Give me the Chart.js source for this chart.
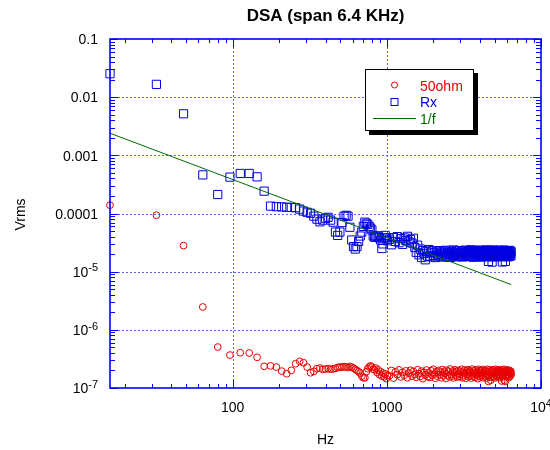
<!DOCTYPE html>
<html>
<head>
<meta charset="utf-8">
<title>DSA (span 6.4 KHz)</title>
<script src="https://cdn.jsdelivr.net/npm/chart.js@4.4.1/dist/chart.umd.min.js"></script>
<style>
  html, body { margin: 0; padding: 0; background: #fff; }
  #wrap { width: 550px; height: 450px; }
</style>
</head>
<body>
<div id="wrap"><canvas id="dsa" width="550" height="450"></canvas></div>
<script>
/* global Chart */
(function () {
  'use strict';

  const chartTitle = 'DSA (span 6.4 KHz)';
  const xTitle = 'Hz';
  const yTitle = 'Vrms';

  // analyzer bins (Hz); 16 Hz apart up to 1 kHz, thinned to 32 Hz above
  const freqHz = [
    16, 32, 48, 64, 80, 96, 112, 128, 144, 160, 176, 192, 208, 224, 240, 256,
    272, 288, 304, 320, 336, 352, 368, 384, 400, 416, 432, 448, 464, 480, 496,
    512, 528, 544, 560, 576, 592, 608, 624, 640, 656, 672, 688, 704, 720, 736,
    752, 768, 784, 800, 816, 832, 848, 864, 880, 896, 912, 928, 944, 960, 976,
    992, 1008,
    1040, 1072, 1104, 1136, 1168, 1200, 1232, 1264, 1296, 1328, 1360, 1392,
    1424, 1456, 1488, 1520, 1552, 1584, 1616, 1648, 1680, 1712, 1744, 1776,
    1808, 1840, 1872, 1904, 1936, 1968, 2000, 2032, 2064, 2096, 2128, 2160,
    2192, 2224, 2256, 2288, 2320, 2352, 2384, 2416, 2448, 2480, 2512, 2544,
    2576, 2608, 2640, 2672, 2704, 2736, 2768, 2800, 2832, 2864, 2896, 2928,
    2960, 2992, 3024, 3056, 3088, 3120, 3152, 3184, 3216, 3248, 3280, 3312,
    3344, 3376, 3408, 3440, 3472, 3504, 3536, 3568, 3600, 3632, 3664, 3696,
    3728, 3760, 3792, 3824, 3856, 3888, 3920, 3952, 3984, 4016, 4048, 4080,
    4112, 4144, 4176, 4208, 4240, 4272, 4304, 4336, 4368, 4400, 4432, 4464,
    4496, 4528, 4560, 4592, 4624, 4656, 4688, 4720, 4752, 4784, 4816, 4848,
    4880, 4912, 4944, 4976, 5008, 5040, 5072, 5104, 5136, 5168, 5200, 5232,
    5264, 5296, 5328, 5360, 5392, 5424, 5456, 5488, 5520, 5552, 5584, 5616,
    5648, 5680, 5712, 5744, 5776, 5808, 5840, 5872, 5904, 5936, 5968, 6000,
    6032, 6064, 6096, 6128, 6160, 6192, 6224, 6256, 6288, 6320, 6352, 6384,
    6400
  ];

  const ohm50 = [
    1.39e-4, 9.35e-5, 2.81e-5, 2.47e-6, 5.06e-7, 3.68e-7, 4.04e-7, 4.0e-7, 3.37e-7, 2.36e-7, 2.40e-7,
    2.29e-7, 1.95e-7, 1.76e-7, 2.01e-7, 2.62e-7, 2.87e-7, 2.72e-7, 2.29e-7, 1.83e-7, 1.93e-7,
    2.15e-7, 2.20e-7, 2.09e-7, 2.12e-7, 2.15e-7, 2.10e-7, 2.13e-7, 2.18e-7, 2.25e-7, 2.30e-7,
    2.28e-7, 2.32e-7, 2.30e-7, 2.25e-7, 2.35e-7, 2.28e-7, 2.20e-7, 2.10e-7, 2.00e-7, 1.90e-7,
    1.80e-7, 1.60e-7, 1.50e-7, 1.50e-7, 1.90e-7, 2.15e-7, 2.30e-7, 2.40e-7, 2.30e-7, 2.10e-7,
    2.05e-7, 2.20e-7, 1.85e-7, 2.05e-7, 1.70e-7, 1.90e-7, 1.60e-7, 1.80e-7, 1.55e-7, 1.75e-7,
    1.45e-7, 1.65e-7,
    1.62e-7, 2.00e-7, 1.48e-7, 1.90e-7, 1.70e-7, 2.05e-7, 1.55e-7, 1.85e-7, 1.65e-7, 1.97e-7, 1.50e-7, 1.80e-7,
    2.02e-7, 1.60e-7, 1.92e-7, 1.72e-7, 1.53e-7, 2.06e-7, 1.76e-7, 1.58e-7, 1.95e-7, 1.45e-7, 1.86e-7, 1.68e-7,
    2.04e-7, 1.57e-7, 1.82e-7, 1.52e-7, 1.98e-7, 1.66e-7, 2.10e-7, 1.74e-7, 1.47e-7, 1.91e-7, 1.60e-7, 2.00e-7,
    1.70e-7, 1.87e-7, 1.50e-7, 2.08e-7, 1.63e-7, 1.94e-7, 1.78e-7, 1.46e-7, 2.02e-7, 1.68e-7, 1.88e-7, 1.56e-7,
    2.12e-7, 1.73e-7, 1.60e-7, 1.96e-7, 1.49e-7, 1.84e-7, 2.05e-7, 1.66e-7, 1.90e-7, 1.54e-7, 2.00e-7, 1.76e-7,
    1.58e-7, 1.93e-7, 1.71e-7, 2.10e-7, 1.50e-7, 1.86e-7, 1.64e-7, 2.03e-7, 1.79e-7, 1.47e-7, 1.95e-7, 1.69e-7,
    2.07e-7, 1.56e-7, 1.83e-7, 1.99e-7, 1.62e-7, 1.89e-7, 1.48e-7, 2.11e-7, 1.74e-7, 1.59e-7, 1.96e-7, 1.80e-7,
    1.52e-7, 2.04e-7, 1.67e-7, 1.92e-7, 1.77e-7, 1.45e-7, 2.09e-7, 1.61e-7, 1.87e-7, 2.00e-7, 1.55e-7, 1.82e-7,
    1.97e-7, 1.65e-7, 2.08e-7, 1.50e-7, 1.85e-7, 1.72e-7, 2.02e-7, 1.57e-7, 1.94e-7, 1.68e-7, 1.48e-7, 2.10e-7,
    1.75e-7, 1.60e-7, 1.30e-7, 1.90e-7, 1.66e-7, 2.05e-7, 1.53e-7, 1.36e-7, 1.83e-7, 1.98e-7, 1.62e-7, 1.88e-7,
    2.06e-7, 1.55e-7, 1.79e-7, 1.95e-7, 1.49e-7, 1.86e-7, 2.10e-7, 1.64e-7, 1.91e-7, 1.57e-7, 2.02e-7, 1.73e-7,
    1.60e-7, 1.97e-7, 1.69e-7, 2.07e-7, 1.51e-7, 1.84e-7, 1.99e-7, 1.63e-7, 1.88e-7, 1.32e-7, 1.76e-7, 2.03e-7,
    1.56e-7, 1.92e-7, 1.73e-7, 2.10e-7, 1.35e-7, 1.81e-7, 1.98e-7, 1.30e-7, 1.67e-7, 1.95e-7, 1.59e-7, 1.85e-7,
    2.05e-7, 1.62e-7, 1.90e-7, 1.74e-7, 1.50e-7, 1.96e-7, 1.68e-7, 2.01e-7, 1.58e-7, 1.87e-7, 1.77e-7, 1.93e-7,
    1.70e-7
  ];

  const rx = [
    0.0253, 0.0166, 0.00518, 4.61e-4, 2.12e-4, 4.22e-4, 4.88e-4, 4.88e-4, 4.27e-4, 2.42e-4, 1.34e-4,
    1.31e-4, 1.30e-4, 1.28e-4, 1.27e-4, 1.26e-4, 1.19e-4, 1.10e-4, 1.05e-4, 1.01e-4, 9.0e-5,
    8.0e-5, 7.2e-5, 7.7e-5, 8.3e-5, 8.6e-5, 7.7e-5, 7.1e-5, 4.8e-5, 4.2e-5, 4.8e-5,
    7.0e-5, 9.0e-5, 9.3e-5, 9.0e-5, 5.8e-5, 3.5e-5, 2.7e-5, 2.45e-5, 2.7e-5, 3.3e-5,
    4.1e-5, 4.8e-5, 6.0e-5, 7.1e-5, 6.8e-5, 6.5e-5, 6.0e-5, 5.6e-5, 5.2e-5, 4.1e-5,
    3.9e-5, 4.1e-5, 3.9e-5, 4.1e-5, 3.8e-5, 3.5e-5, 2.5e-5, 3.0e-5, 3.8e-5, 4.2e-5,
    3.8e-5, 3.4e-5,
    3.60e-5, 2.90e-5, 3.85e-5, 3.30e-5, 4.00e-5, 3.15e-5, 3.70e-5, 2.95e-5, 3.80e-5, 3.45e-5, 4.05e-5, 3.25e-5,
    3.55e-5, 3.10e-5, 3.75e-5, 2.60e-5, 2.15e-5, 2.85e-5, 1.95e-5, 2.45e-5, 1.75e-5, 2.30e-5, 2.05e-5, 1.60e-5,
    2.20e-5, 1.85e-5, 2.40e-5, 1.80e-5, 2.10e-5, 2.30e-5, 1.90e-5, 2.15e-5, 1.75e-5, 2.25e-5, 2.00e-5, 1.85e-5,
    2.30e-5, 1.95e-5, 2.10e-5, 1.78e-5, 2.24e-5, 2.02e-5, 1.88e-5, 2.33e-5, 1.82e-5, 2.12e-5, 1.97e-5, 2.27e-5,
    1.76e-5, 2.06e-5, 2.20e-5, 1.90e-5, 2.36e-5, 1.84e-5, 2.14e-5, 1.99e-5, 2.28e-5, 1.80e-5, 2.09e-5, 1.93e-5,
    2.31e-5, 1.86e-5, 2.17e-5, 2.00e-5, 1.79e-5, 2.25e-5, 1.92e-5, 2.11e-5, 2.34e-5, 1.83e-5, 2.04e-5, 2.21e-5,
    1.89e-5, 2.29e-5, 1.81e-5, 2.13e-5, 1.96e-5, 2.38e-5, 1.85e-5, 2.07e-5, 2.23e-5, 1.77e-5, 2.16e-5, 1.94e-5,
    2.32e-5, 1.87e-5, 2.10e-5, 2.26e-5, 1.80e-5, 2.01e-5, 2.19e-5, 1.91e-5, 2.35e-5, 1.84e-5, 2.08e-5, 1.98e-5,
    2.27e-5, 1.78e-5, 2.15e-5, 1.93e-5, 2.30e-5, 1.86e-5, 2.05e-5, 2.22e-5, 1.82e-5, 2.12e-5, 2.37e-5, 1.90e-5,
    2.03e-5, 2.24e-5, 1.50e-5, 2.18e-5, 1.88e-5, 2.33e-5, 1.95e-5, 2.10e-5, 1.79e-5, 2.26e-5, 1.46e-5, 2.00e-5,
    2.20e-5, 1.85e-5, 2.36e-5, 1.97e-5, 2.11e-5, 1.81e-5, 2.29e-5, 1.92e-5, 2.14e-5, 2.02e-5, 1.87e-5, 2.31e-5,
    1.94e-5, 2.17e-5, 1.83e-5, 2.25e-5, 2.06e-5, 1.90e-5, 2.34e-5, 1.80e-5, 2.12e-5, 1.98e-5, 2.21e-5, 1.47e-5,
    2.28e-5, 1.89e-5, 2.09e-5, 2.35e-5, 1.84e-5, 2.16e-5, 1.95e-5, 1.50e-5, 2.23e-5, 2.01e-5, 1.86e-5, 2.30e-5,
    1.93e-5, 2.13e-5, 1.80e-5, 2.27e-5, 2.04e-5, 1.90e-5, 2.19e-5, 1.83e-5, 2.32e-5, 1.97e-5, 2.10e-5, 1.88e-5,
    2.20e-5
  ];

  // 1/f reference line, end points
  const fitHz = [16, 6400];
  const fitVrms = [0.0024, 6.0e-6];

  const xTickValues = [100, 1000, 10000];
  const xTickLabels = ['100', '1000', '10^4'];
  const yTickValues = [0.1, 0.01, 0.001, 0.0001, 1e-5, 1e-6, 1e-7];
  const yTickLabels = ['0.1', '0.01', '0.001', '0.0001', '10^-5', '10^-6', '10^-7'];
  const minorSteps = [2, 3, 4, 5, 6, 7, 8, 9];

  const RED = '#e80000';
  const BLUE = '#0000e0';
  const GREEN = '#006a00';
  const AXIS = '#0000ff';
  const FONT = '"Liberation Sans", Arial, Helvetica, sans-serif';

  function toPoints(xs, ys) {
    return xs.map(function (x, i) {
      return { x: x, y: ys[i] };
    });
  }

  // "10^-5" -> 10 with a raised -5
  function labelWidth(ctx, label) {
    const parts = label.split('^');
    ctx.font = '14px ' + FONT;
    let w = ctx.measureText(parts[0]).width;
    if (parts[1]) {
      ctx.font = '11px ' + FONT;
      w += ctx.measureText(parts[1]).width;
    }
    return w;
  }

  function drawLabel(ctx, label, left, baseline) {
    const parts = label.split('^');
    ctx.font = '14px ' + FONT;
    ctx.fillText(parts[0], left, baseline);
    if (parts[1]) {
      const w = ctx.measureText(parts[0]).width;
      ctx.font = '11px ' + FONT;
      ctx.fillText(parts[1], left + w, baseline - 5.5);
    }
  }

  function seg(ctx, x1, y1, x2, y2) {
    ctx.beginPath();
    ctx.moveTo(x1, y1);
    ctx.lineTo(x2, y2);
    ctx.stroke();
  }

  function decadeMinors(scale) {
    const out = [];
    const e0 = Math.floor(Math.log10(scale.min));
    const e1 = Math.ceil(Math.log10(scale.max));
    for (let e = e0; e < e1; e++) {
      minorSteps.forEach(function (m) {
        const v = m * Math.pow(10, e);
        if (v > scale.min && v < scale.max) out.push(v);
      });
    }
    return out;
  }

  const framePlugin = {
    id: 'kgFrame',
    beforeDatasetsDraw: function (chart) {
      const ctx = chart.ctx;
      const a = chart.chartArea;
      const sx = chart.scales.x;
      const sy = chart.scales.y;
      ctx.save();
      ctx.strokeStyle = '#5a5aff';
      ctx.lineWidth = 1;
      ctx.setLineDash([2, 2]);
      xTickValues.forEach(function (v) {
        const px = Math.round(sx.getPixelForValue(v)) + 0.5;
        if (px > a.left + 2 && px < a.right - 2) seg(ctx, px, a.top, px, a.bottom);
      });
      yTickValues.forEach(function (v) {
        const py = Math.round(sy.getPixelForValue(v)) + 0.5;
        if (py > a.top + 2 && py < a.bottom - 2) seg(ctx, a.left, py, a.right, py);
      });
      ctx.restore();
    },
    afterDatasetsDraw: function (chart) {
      const ctx = chart.ctx;
      const a = chart.chartArea;
      const sx = chart.scales.x;
      const sy = chart.scales.y;
      ctx.save();
      ctx.strokeStyle = AXIS;
      ctx.lineWidth = 1;

      // inward ticks on all four sides
      decadeMinors(sx).forEach(function (v) {
        const px = Math.round(sx.getPixelForValue(v)) + 0.5;
        seg(ctx, px, a.bottom, px, a.bottom - 4);
        seg(ctx, px, a.top, px, a.top + 4);
      });
      xTickValues.forEach(function (v) {
        const px = Math.round(sx.getPixelForValue(v)) + 0.5;
        seg(ctx, px, a.bottom, px, a.bottom - 8);
        seg(ctx, px, a.top, px, a.top + 8);
      });
      decadeMinors(sy).forEach(function (v) {
        const py = Math.round(sy.getPixelForValue(v)) + 0.5;
        seg(ctx, a.left, py, a.left + 5, py);
        seg(ctx, a.right, py, a.right - 5, py);
      });
      yTickValues.forEach(function (v) {
        const py = Math.round(sy.getPixelForValue(v)) + 0.5;
        seg(ctx, a.left, py, a.left + 8, py);
        seg(ctx, a.right, py, a.right - 8, py);
      });

      ctx.lineWidth = 1.6;
      ctx.strokeRect(a.left, a.top, a.right - a.left, a.bottom - a.top);

      // tick labels
      ctx.fillStyle = '#000';
      ctx.textBaseline = 'alphabetic';
      ctx.textAlign = 'left';
      yTickValues.forEach(function (v, i) {
        const py = sy.getPixelForValue(v);
        const w = labelWidth(ctx, yTickLabels[i]);
        drawLabel(ctx, yTickLabels[i], 98 - w, py + 5.3);
      });
      xTickValues.forEach(function (v, i) {
        const px = sx.getPixelForValue(v);
        const w = labelWidth(ctx, xTickLabels[i]);
        drawLabel(ctx, xTickLabels[i], px - w / 2, a.bottom + 24);
      });

      // titles
      ctx.textAlign = 'center';
      ctx.font = 'bold 17px ' + FONT;
      ctx.fillText(chartTitle, (a.left + a.right) / 2, 21);
      ctx.font = '14px ' + FONT;
      ctx.fillText(xTitle, (a.left + a.right) / 2, 444);
      ctx.translate(25, (a.top + a.bottom) / 2 + 1);
      ctx.rotate(-Math.PI / 2);
      ctx.fillText(yTitle, 0, 0);
      ctx.restore();
    },
    afterDraw: function (chart) {
      const ctx = chart.ctx;
      const box = { x: 365, y: 69, w: 109, h: 62 };
      ctx.save();
      ctx.fillStyle = '#000';
      ctx.fillRect(box.x + 4, box.y + 4, box.w, box.h);
      ctx.fillStyle = '#fff';
      ctx.fillRect(box.x, box.y, box.w, box.h);
      ctx.strokeStyle = '#000';
      ctx.lineWidth = 1;
      ctx.strokeRect(box.x + 0.5, box.y + 0.5, box.w - 1, box.h - 1);

      ctx.font = '14px ' + FONT;
      ctx.textAlign = 'left';
      ctx.textBaseline = 'alphabetic';
      chart.data.datasets.forEach(function (ds, i) {
        const cy = box.y + 16 + i * 16.5;
        ctx.strokeStyle = ds.borderColor;
        ctx.fillStyle = ds.borderColor;
        ctx.lineWidth = 1;
        if (ds.showLine) {
          seg(ctx, 373, Math.round(cy) + 0.5, 416, Math.round(cy) + 0.5);
        } else if (ds.pointStyle === 'rect') {
          ctx.strokeRect(391, Math.round(cy) - 3.5, 7, 7);
        } else {
          ctx.beginPath();
          ctx.arc(394.5, cy, 3, 0, Math.PI * 2);
          ctx.stroke();
        }
        ctx.fillText(ds.label, 420, cy + 5.5);
      });
      ctx.restore();
    }
  };

  const ctx = document.getElementById('dsa').getContext('2d');
  new Chart(ctx, {
    type: 'scatter',
    data: {
      datasets: [
        {
          label: '50ohm',
          data: toPoints(freqHz, ohm50),
          pointStyle: 'circle',
          pointRadius: 3.4,
          borderColor: RED,
          backgroundColor: 'transparent',
          pointBorderWidth: 1,
          clip: false,
          order: 3
        },
        {
          label: 'Rx',
          data: toPoints(freqHz, rx),
          pointStyle: 'rect',
          pointRadius: 5.8,
          borderColor: BLUE,
          backgroundColor: 'transparent',
          pointBorderWidth: 1,
          clip: false,
          order: 2
        },
        {
          label: '1/f',
          data: toPoints(fitHz, fitVrms),
          showLine: true,
          borderColor: GREEN,
          borderWidth: 1,
          pointRadius: 0,
          fill: false,
          order: 1
        }
      ]
    },
    options: {
      responsive: false,
      animation: false,
      devicePixelRatio: 1,
      layout: { padding: { left: 110, top: 39, right: 9, bottom: 62 } },
      plugins: {
        legend: { display: false },
        title: { display: false },
        tooltip: { enabled: false }
      },
      scales: {
        x: { type: 'logarithmic', min: 16, max: 10000, display: false },
        y: { type: 'logarithmic', min: 1e-7, max: 0.1, display: false }
      }
    },
    plugins: [framePlugin]
  });
})();
</script>
</body>
</html>
